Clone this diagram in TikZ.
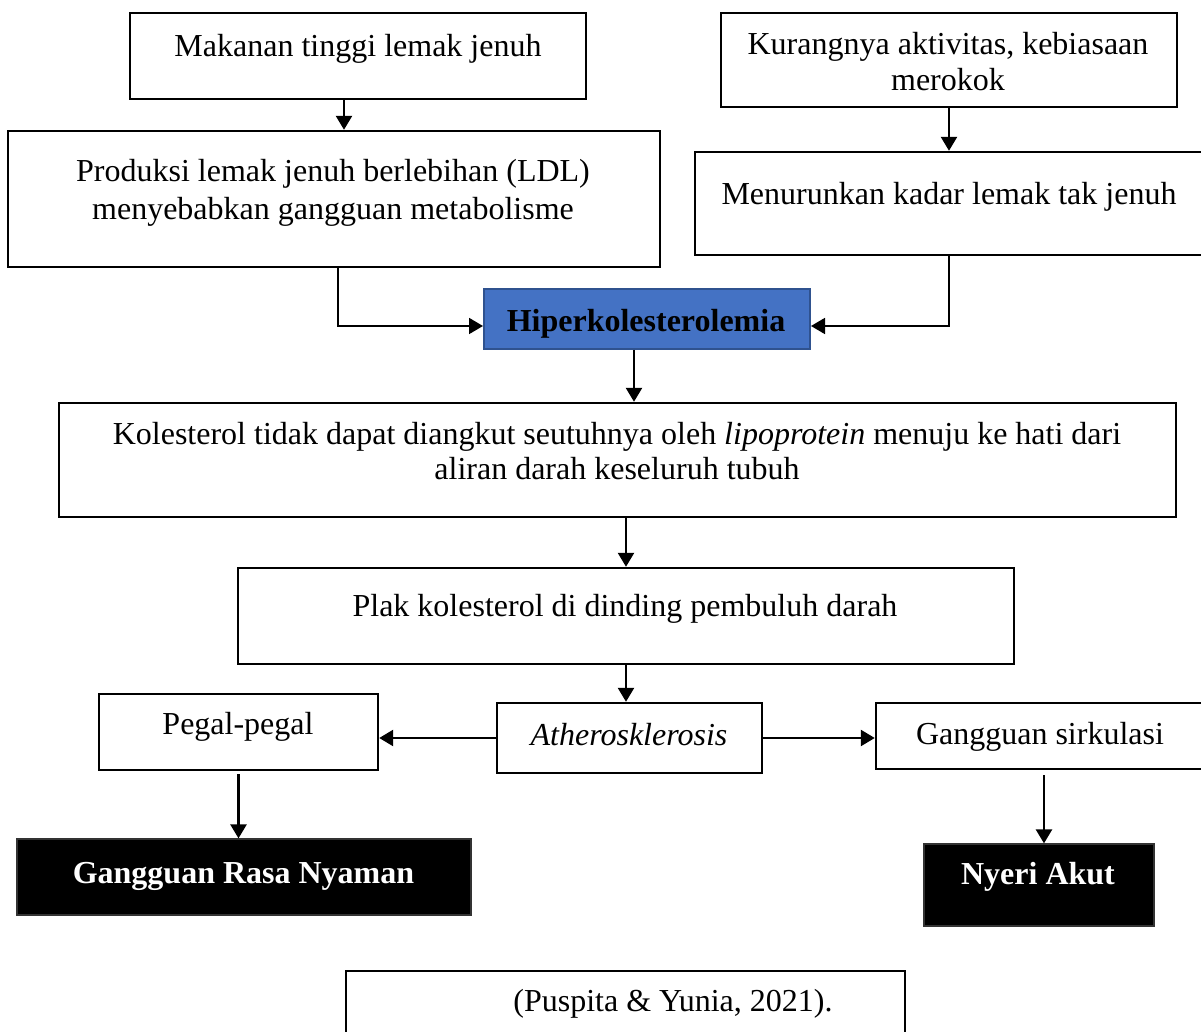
\documentclass[tikz,border=0pt]{standalone}
\usepackage{fontspec}
\setmainfont{Liberation Serif}
\usetikzlibrary{arrows.meta}
\definecolor{hblue}{HTML}{4472C4}
\definecolor{hborder}{HTML}{2F528F}
\begin{document}
\begin{tikzpicture}[x=0.5pt,y=-0.5pt,
  box/.style={draw=black, line width=1.2pt, fill=white, inner sep=0pt},
  hibox/.style={draw=hborder, line width=1pt, fill=hblue, inner sep=0pt},
  blackbox/.style={draw=black!80, line width=0.6pt, fill=black, inner sep=0pt},
  txt/.style={anchor=base, inner sep=0pt, font=\fontsize{16pt}{19pt}\selectfont},
  btxt/.style={txt, font=\fontsize{16pt}{19pt}\selectfont\bfseries},
  arr/.style={line width=1.25pt, -{Triangle[length=7pt,width=8pt]}},
  tarr/.style={line width=0.9pt, -{Triangle[length=7pt,width=8pt]}}
]
\useasboundingbox (0,0) rectangle (1201,1032);
\clip (0,0) rectangle (1201,1032);
\fill[white] (0,0) rectangle (1201,1032);

% boxes
\node[box, minimum width=228pt, minimum height=43pt] (b1) at (358,56) {};
\node[box, minimum width=228pt, minimum height=47pt] (b2) at (949,60) {};
\node[box, minimum width=326pt, minimum height=68pt] (b3) at (334,199) {};
\node[box, minimum width=254pt, minimum height=51.5pt] (b4) at (949,203.5) {};
\node[hibox, minimum width=163pt, minimum height=30pt] (hiper) at (647,319) {};
\node[box, minimum width=558.5pt, minimum height=57pt] (b6) at (617.5,460) {};
\node[box, minimum width=388pt, minimum height=48pt] (b7) at (626,616) {};
\node[box, minimum width=132.5pt, minimum height=35pt] (ather) at (629.5,738) {};
\node[box, minimum width=139.5pt, minimum height=38pt] (pegal) at (238.5,732) {};
\node[box, minimum width=164pt, minimum height=33pt] (gs) at (1040,736) {};
\node[blackbox, minimum width=227pt, minimum height=38pt] (grn) at (244,877) {};
\node[blackbox, minimum width=115pt, minimum height=41pt] (nyeri) at (1039,885) {};
\node[box, minimum width=279.5pt, minimum height=44.5pt] (cite) at (625.5,1015.5) {};

% texts
\node[txt] (t1) at (358,56.5) {Makanan tinggi lemak jenuh};
\node[txt] (t2a) at (948,54.5) {Kurangnya aktivitas, kebiasaan};
\node[txt] (t2b) at (948,90.5) {merokok};
\node[txt] (t3a) at (333,181.5) {Produksi lemak jenuh berlebihan (LDL)};
\node[txt] (t3b) at (333,219.5) {menyebabkan gangguan metabolisme};
\node[txt] (t4) at (949,204.5) {Menurunkan kadar lemak tak jenuh};
\node[btxt] (th) at (646,331.5) {Hiperkolesterolemia};
\node[txt] (t6a) at (617,445) {Kolesterol tidak dapat diangkut seutuhnya oleh \textit{lipoprotein} menuju ke hati dari};
\node[txt] (t6b) at (617,479.5) {aliran darah keseluruh tubuh};
\node[txt] (t7) at (625,616.5) {Plak kolesterol di dinding pembuluh darah};
\node[txt] (ta) at (629,745) {\textit{Atherosklerosis}};
\node[txt] (tp) at (238,734.5) {Pegal-pegal};
\node[txt] (tg) at (1040,744.5) {Gangguan sirkulasi};
\node[btxt, text=white] (tgrn) at (243.5,883) {Gangguan Rasa Nyaman};
\node[btxt, text=white] (tny) at (1038,884.5) {Nyeri Akut};
\node[txt] (tc) at (673,1011.5) {(Puspita \& Yunia, 2021).};

% connectors
\draw[arr] ([xshift=-7pt]b1.south) -- ([xshift=-7pt]b1.south |- b3.north);
\draw[arr] (b2.south) -- (b2.south |- b4.north);
\draw[tarr] ([xshift=2pt]b3.south) |- ([yshift=-3.5pt]hiper.west);
\draw[tarr] (b4.south) |- ([yshift=-3.5pt]hiper.east);
\draw[arr] ([xshift=-6.5pt]hiper.south) -- ([xshift=-6.5pt]hiper.south |- b6.north);
\draw[arr] (b7.north |- b6.south) -- (b7.north);
\draw[arr] (b7.south) -- (b7.south |- ather.north);
\draw[arr] (ather.west) -- (ather.west -| pegal.east);
\draw[arr] (ather.east) -- (ather.east -| gs.west);
\draw[arr] ([yshift=-1.5pt]pegal.south) -- (pegal.south |- grn.north);
\draw[arr] ([xshift=2pt,yshift=-2.5pt]gs.south) -- ([xshift=2pt]gs.south |- nyeri.north);
\end{tikzpicture}
\end{document}
